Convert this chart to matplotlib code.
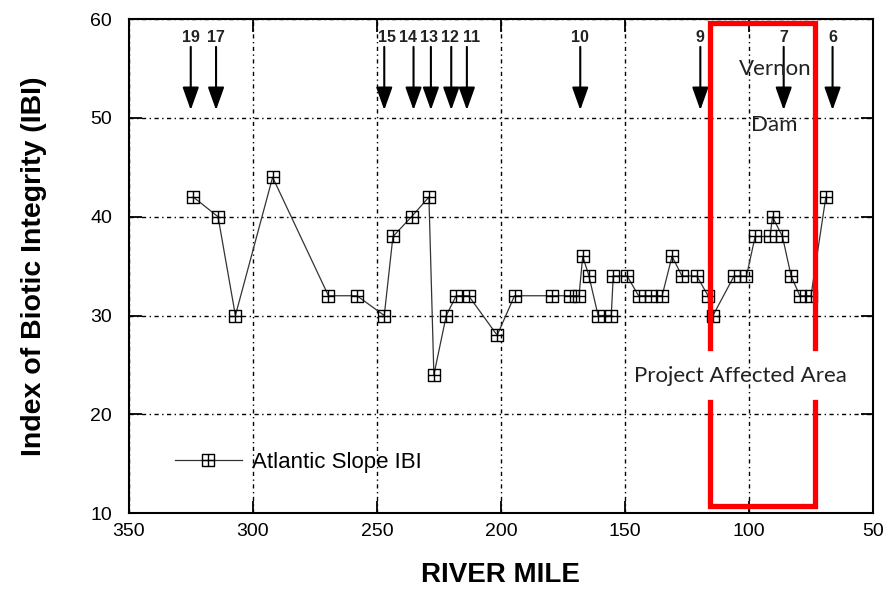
import numpy as np
import matplotlib
matplotlib.use('Agg')
import matplotlib.pyplot as plt
from matplotlib.path import Path

plt.rcParams['font.family'] = ['Liberation Sans', 'DejaVu Sans']

# IBI samples (river mile, score)
river_mile = [324, 314, 307, 292, 269.5, 258, 247, 243.5, 236, 229, 227, 222,
              218, 213, 201.5, 194.5, 179.5, 172, 168.5, 167, 164.5, 160.8,
              155.5, 154.7, 149.1, 144.5, 139.5, 135, 131, 127, 121, 116.5,
              114.5, 106, 101, 97.5, 91.5, 90.5, 86.5, 83, 79.5, 75, 69]
ibi = [42, 40, 30, 44, 32, 32, 30, 38, 40, 42, 24, 30,
       32, 32, 28, 32, 32, 32, 32, 36, 34, 30,
       30, 34, 34, 32, 32, 32, 36, 34, 34, 32,
       30, 34, 34, 38, 38, 40, 38, 34, 32, 32, 42]

# station arrows along the top (arrow position, label position, label)
station_mile = [325, 314.8, 247, 235.2, 228.2, 220, 213.7, 168, 119.6, 86, 66.3]
station_text_mile = [325, 314.8, 245.8, 237.4, 228.9, 220.4, 212, 168, 119.6, 86, 66.3]
station_label = ['19', '17', '15', '14', '13', '12', '11', '10', '9', '7', '6']

# project affected area (river miles)
area_left = 115.6
area_right = 73.3

# square-with-cross marker
box_plus = Path([(-1, -1), (1, -1), (1, 1), (-1, 1), (-1, -1),
                 (-1, 0), (1, 0), (0, -1), (0, 1)],
                [Path.MOVETO, Path.LINETO, Path.LINETO, Path.LINETO, Path.CLOSEPOLY,
                 Path.MOVETO, Path.LINETO, Path.MOVETO, Path.LINETO])

fig = plt.figure(figsize=(8.89, 6.01), dpi=100)
ax = fig.add_axes([0.1448, 0.1464, 0.8372, 0.8216])

ax.set_xlim(350, 50)
ax.set_ylim(10, 60)
ax.set_xticks([350, 300, 250, 200, 150, 100, 50])
ax.set_yticks([10, 20, 30, 40, 50, 60])

ax.grid(True, color='k', linestyle=(0, (3, 2.5, 1, 2.5)), linewidth=1.0)
ax.set_axisbelow(True)

ax.plot(river_mile, ibi, color='#333333', lw=0.9, marker=box_plus,
        markersize=8, markerfacecolor='none', markeredgecolor='k',
        markeredgewidth=1.0, label='Atlantic Slope IBI', zorder=3)

for x, xt, lab in zip(station_mile, station_text_mile, station_label):
    ax.annotate('', xy=(x, 50.8), xytext=(x, 57.2),
                arrowprops=dict(arrowstyle='-|>,head_length=0.7,head_width=0.25',
                                color='k', lw=1.5, mutation_scale=20,
                                shrinkA=0, shrinkB=0))
    ax.text(xt, 58.1, lab, ha='center', va='center', fontsize=11.5,
            fontweight='bold', color='#222222')

red_kw = dict(color='#ff0000', lw=3.8, solid_joinstyle='miter', zorder=4, clip_on=False)
ax.plot([area_left, area_left, area_right, area_right], [26.7, 59.6, 59.6, 26.7], **red_kw)
ax.plot([area_left, area_left, area_right, area_right], [21.2, 10.7, 10.7, 21.2], **red_kw)

ax.text(89.5, 55, 'Vernon', ha='center', va='center', fontsize=16,
        family=['Lato', 'DejaVu Sans'], color='#222222')
ax.text(90, 49.3, 'Dam', ha='center', va='center', fontsize=16,
        family=['Lato', 'DejaVu Sans'], color='#222222')
ax.text(103.5, 23.9, 'Project Affected Area', ha='center', va='center',
        fontsize=16, family=['Lato', 'DejaVu Sans'], color='#222222')

ax.legend(loc='center left', bbox_to_anchor=(0.062, 0.103), frameon=False,
          borderpad=0, borderaxespad=0, handlelength=3.0, handletextpad=0.45,
          fontsize=16)

ax.tick_params(direction='in', length=9, width=1.3, top=True, right=True,
               labelsize=14)
ax.tick_params(axis='x', pad=7)
ax.tick_params(axis='y', pad=12)
for s in ax.spines.values():
    s.set_linewidth(1.5)

ax.set_xlabel('RIVER MILE', fontsize=20, fontweight='bold', labelpad=16)
ax.set_ylabel('Index of Biotic Integrity (IBI)', fontsize=20.5, fontweight='bold',
              labelpad=31)

fig.savefig('out.png', dpi=100)
